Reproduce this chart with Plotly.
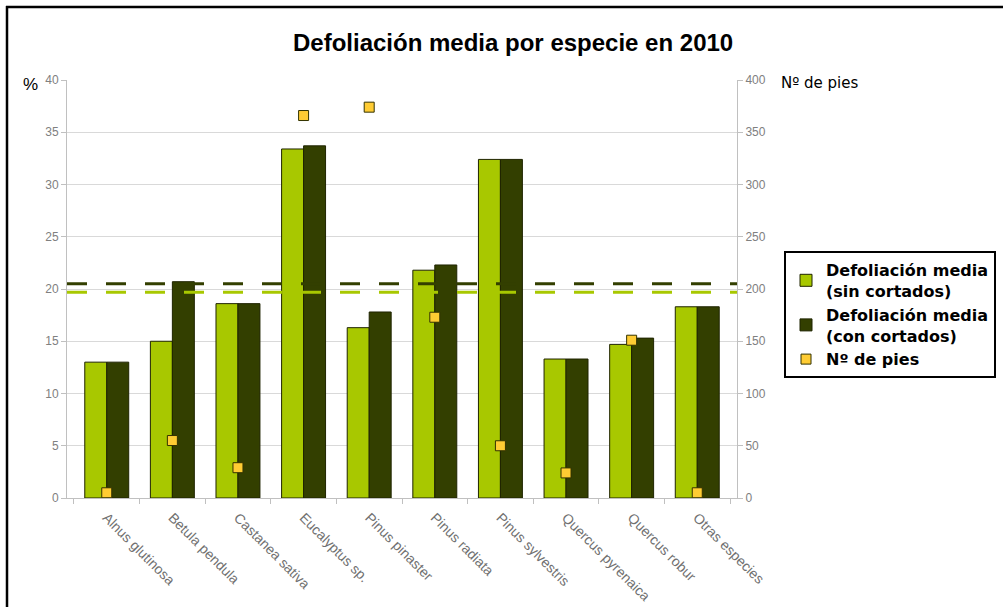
import plotly.graph_objects as go

especies = ["Alnus glutinosa", "Betula pendula", "Castanea sativa", "Eucalyptus sp.",
            "Pinus pinaster", "Pinus radiata", "Pinus sylvestris", "Quercus pyrenaica",
            "Quercus robur", "Otras especies"]
defol_sin = [13.0, 15.0, 18.6, 33.4, 16.3, 21.8, 32.4, 13.3, 14.7, 18.3]
defol_con = [13.0, 20.7, 18.6, 33.7, 17.8, 22.3, 32.4, 13.3, 15.3, 18.3]
n_pies = [5, 55, 29, 366, 374, 173, 50, 24, 151, 5]
media_sin = 19.7
media_con = 20.5

LIGHT = "#A8C800"
DARK = "#333F00"
YELLOW = "#FFCC33"
FONT = "Liberation Sans, Arial, sans-serif"
WIDE = "DejaVu Sans, Verdana, sans-serif"

W, H = 1003, 607
ML, MR, MT, MB = 67, 266, 80, 109
PW = W - ML - MR
PH = H - MT - MB


def px_x(p):
    return (p - ML) / PW


def px_y(p):
    return 1 + (MT - p) / PH


fig = go.Figure()
fig.add_trace(go.Bar(x=especies, y=defol_sin, name="Defoliación media<br>(sin cortados)",
                     marker=dict(color=LIGHT, line=dict(color="#1f2400", width=1))))
fig.add_trace(go.Bar(x=especies, y=defol_con, name="Defoliación media<br>(con cortados)",
                     marker=dict(color=DARK, line=dict(color="#1f2400", width=1))))
fig.add_trace(go.Scatter(x=especies, y=n_pies, name="Nº de pies", yaxis="y2", mode="markers",
                         marker=dict(symbol="square", size=10, color=YELLOW,
                                     line=dict(color="#333300", width=1)),
                         cliponaxis=False))

shapes = [
    dict(type="line", xref="paper", yref="y", x0=0, x1=1, y0=media_con, y1=media_con,
         line=dict(color=DARK, width=3, dash="20px,19px"), layer="above"),
    dict(type="line", xref="paper", yref="y", x0=0, x1=1, y0=media_sin, y1=media_sin,
         line=dict(color=LIGHT, width=3, dash="20px,19px"), layer="above"),
    # outer frame (left and top edges)
    dict(type="line", xref="paper", yref="paper", x0=px_x(7), x1=px_x(7),
         y0=px_y(6), y1=px_y(620), line=dict(color="black", width=2.5)),
    dict(type="line", xref="paper", yref="paper", x0=px_x(6), x1=px_x(1010),
         y0=px_y(7), y1=px_y(7), line=dict(color="black", width=2.5)),
]

annotations = [
    dict(text="<b>Defoliación media por especie en 2010</b>", xref="paper", yref="paper",
         x=px_x(513), y=px_y(42), xanchor="center", yanchor="middle", showarrow=False,
         font=dict(size=24, color="black", family=FONT)),
    dict(text="%", xref="paper", yref="paper", x=px_x(21), y=px_y(84),
         xanchor="left", yanchor="middle", showarrow=False,
         font=dict(size=17, color="black", family=FONT)),
    dict(text="Nº de pies", xref="paper", yref="paper", x=px_x(779), y=px_y(83),
         xanchor="left", yanchor="middle", showarrow=False,
         font=dict(size=15, color="black", family=WIDE)),
]

fig.update_layout(
    width=W, height=H,
    margin=dict(l=ML, r=MR, t=MT, b=MB, pad=0, autoexpand=False),
    paper_bgcolor="white", plot_bgcolor="white",
    barmode="group", bargap=0.33, bargroupgap=0,
    font=dict(family=FONT, color="#808080", size=12),
    showlegend=True,
    legend=dict(x=px_x(784), y=px_y(251), xanchor="left", yanchor="top",
                bgcolor="white", bordercolor="black", borderwidth=2,
                font=dict(family=WIDE, size=16, color="black", weight="bold"),
                tracegroupgap=2, itemwidth=30),
    xaxis=dict(tickangle=45, tickson="boundaries", ticks="outside", ticklen=5,
               tickcolor="#c0c0c0", showline=True, linecolor="#c0c0c0",
               ticklabelstandoff=5, automargin=False,
               showgrid=False, tickfont=dict(size=14, color="#707070")),
    yaxis=dict(range=[0, 40], dtick=5, ticks="outside", ticklen=5, tickcolor="#c0c0c0",
               showline=True, linecolor="#c0c0c0", gridcolor="#d9d9d9", zeroline=False,
               automargin=False, tickfont=dict(size=12, color="#808080")),
    yaxis2=dict(range=[0, 400], dtick=50, overlaying="y", side="right", ticks="outside",
                ticklen=5, tickcolor="#c0c0c0", showline=True, linecolor="#c0c0c0",
                showgrid=False, zeroline=False, automargin=False,
                tickfont=dict(size=12, color="#808080")),
    shapes=shapes,
    annotations=annotations,
)

fig.write_html("out.html", config={"displayModeBar": False},
               post_script="document.body.style.margin='0px';")
